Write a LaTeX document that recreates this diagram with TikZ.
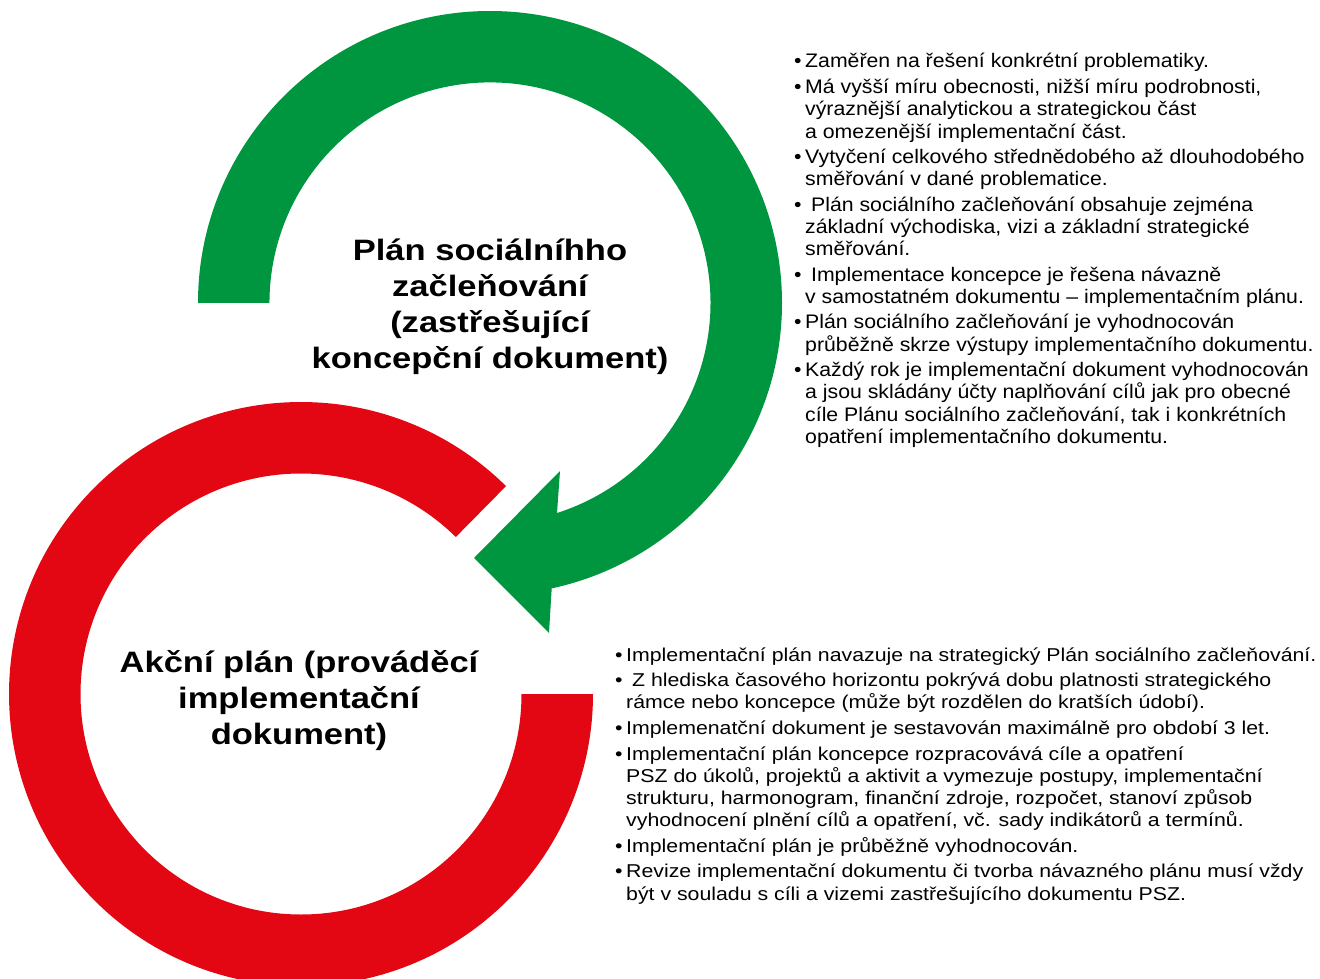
\documentclass[tikz,border=0pt]{standalone}
\usepackage{fontspec}
\setmainfont{Liberation Sans}
\newfontfamily\topfont[FakeStretch=1.085]{Liberation Sans}
\newfontfamily\botfont[FakeStretch=1.145]{Liberation Sans}
\newfontfamily\titfont[FakeStretch=1.17]{Liberation Sans}
\definecolor{pgreen}{RGB}{0,150,64}
\definecolor{pred}{RGB}{227,6,19}
\newlength{\bw}
\setlength{\bw}{11pt}
\newcommand{\bi}{\makebox[\bw][l]{•}}
\newcommand{\ci}{\hspace*{\bw}}
\begin{document}
\begin{tikzpicture}[x=1pt,y=1pt,
  title/.style={align=center,inner sep=0pt,font=\titfont\bfseries\fontsize{29.5}{36}\selectfont},
  blist/.style={anchor=base west,inner sep=0pt}]
\useasboundingbox (0,0) rectangle (1320,-979);
\clip (0,0) rectangle (1320,-979);
% red ring
\fill[pred] (301,-694) ++(45.4:292) arc[start angle=45.4,end angle=360,radius=292]
  -- ++(-71.5,0) arc[start angle=360,end angle=45.4,radius=220.5] -- cycle;
% green arrow ring
\fill[pgreen] (198,-303) arc[start angle=180,end angle=-77.8,radius=292]
  -- (549,-633) -- (474,-558) -- (560,-471) -- (557,-513)
  arc[start angle=-72.3,end angle=180,radius=220.5] -- cycle;
% titles
\node[title] (t1) at (490,-307) {Plán sociálníhho\\začleňování\\(zastřešující\\koncepční dokument)};
\node[title] (t2) at (299,-701) {Akční plán (prováděcí\\implementační\\dokument)};
% top list
\node[blist] (l1) at (794,-68) {\parbox[t]{540pt}{\topfont\fontsize{19.6}{22.4}\selectfont\raggedright
\bi Zaměřen na řešení konkrétní problematiky.\\[2.9pt]
\bi Má vyšší míru obecnosti, nižší míru podrobnosti,\\
\ci výraznější analytickou a strategickou část\\
\ci a omezenější implementační část.\\[2.9pt]
\bi Vytyčení celkového střednědobého až dlouhodobého\\
\ci směřování v dané problematice.\\[2.9pt]
\bi\ Plán sociálního začleňování obsahuje zejména\\
\ci základní východiska, vizi a základní strategické\\
\ci směřování.\\[2.9pt]
\bi\ Implementace koncepce je řešena návazně\\
\ci v samostatném dokumentu – implementačním plánu.\\[2.9pt]
\bi Plán sociálního začleňování je vyhodnocován\\
\ci průběžně skrze výstupy implementačního dokumentu.\\[2.9pt]
\bi Každý rok je implementační dokument vyhodnocován\\
\ci a jsou skládány účty naplňování cílů jak pro obecné\\
\ci cíle Plánu sociálního začleňování, tak i konkrétních\\
\ci opatření implementačního dokumentu.}};
% bottom list
\node[blist] (l2) at (615,-661) {\parbox[t]{720pt}{\botfont\fontsize{18.6}{22.2}\selectfont\raggedright
\bi Implementační plán navazuje na strategický Plán sociálního začleňování.\\[3.4pt]
\bi\ Z hlediska časového horizontu pokrývá dobu platnosti strategického\\
\ci rámce nebo koncepce (může být rozdělen do kratších údobí).\\[3.4pt]
\bi Implemenatční dokument je sestavován maximálně pro období 3 let.\\[3.4pt]
\bi Implementační plán koncepce rozpracovává cíle a opatření\\
\ci PSZ do úkolů, projektů a aktivit a vymezuje postupy, implementační\\
\ci strukturu, harmonogram, finanční zdroje, rozpočet, stanoví způsob\\
\ci vyhodnocení plnění cílů a opatření, vč. sady indikátorů a termínů.\\[3.4pt]
\bi Implementační plán je průběžně vyhodnocován.\\[3.4pt]
\bi Revize implementační dokumentu či tvorba návazného plánu musí vždy\\
\ci být v souladu s cíli a vizemi zastřešujícího dokumentu PSZ.}};
\end{tikzpicture}
\end{document}
